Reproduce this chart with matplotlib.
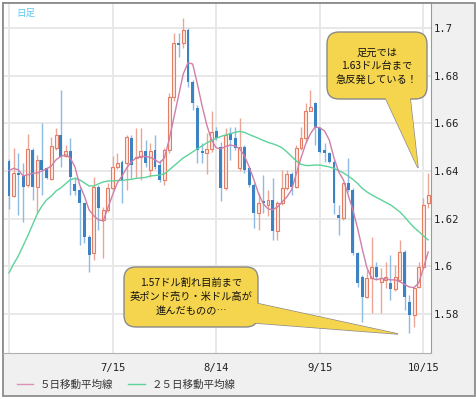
import numpy as np
import pandas as pd
import matplotlib
matplotlib.use("Agg")
import matplotlib.pyplot as plt
from matplotlib.patches import Rectangle, FancyBboxPatch, Polygon

# GBP/USD daily candles, 2009-06-15 .. 2009-10-16
dates = pd.bdate_range("2009-06-15", "2009-10-16")

opens = [1.6442, 1.6296, 1.6390, 1.6380, 1.6341, 1.6490, 1.6334, 1.6446, 1.6411, 1.6366,
         1.6495, 1.6551, 1.6464, 1.6484, 1.6345, 1.6320, 1.6264, 1.6124, 1.6054, 1.6334,
         1.6194, 1.6236, 1.6327, 1.6418, 1.6439, 1.6432, 1.6538, 1.6453, 1.6460, 1.6484,
         1.6404, 1.6488, 1.6423, 1.6362, 1.6488, 1.6710, 1.6936, 1.6937, 1.6992, 1.6775,
         1.6663, 1.6484, 1.6477, 1.6491, 1.6569, 1.6502, 1.6327, 1.6558, 1.6537, 1.6411,
         1.6502, 1.6411, 1.6341, 1.6225, 1.6272, 1.6258, 1.6279, 1.6150, 1.6265, 1.6327,
         1.6387, 1.6334, 1.6495, 1.6537, 1.6653, 1.6684, 1.6579, 1.6486, 1.6477, 1.6439,
         1.6215, 1.6201, 1.6348, 1.6320, 1.6055, 1.5957, 1.5873, 1.5950, 1.5999, 1.5936,
         1.5943, 1.5929, 1.5904, 1.5943, 1.6062, 1.5852, 1.5796, 1.5915, 1.5999, 1.6264]
highs = [1.6450, 1.6495, 1.6477, 1.6432, 1.6555, 1.6495, 1.6467, 1.6600, 1.6415, 1.6544,
         1.6579, 1.6740, 1.6509, 1.6537, 1.6376, 1.6334, 1.6271, 1.6131, 1.6373, 1.6341,
         1.6250, 1.6348, 1.6463, 1.6475, 1.6446, 1.6551, 1.6551, 1.6579, 1.6579, 1.6530,
         1.6516, 1.6551, 1.6446, 1.6495, 1.6726, 1.6978, 1.6978, 1.7040, 1.6999, 1.6780,
         1.6677, 1.6516, 1.6558, 1.6650, 1.6586, 1.6523, 1.6579, 1.6586, 1.6586, 1.6621,
         1.6509, 1.6418, 1.6348, 1.6307, 1.6384, 1.6320, 1.6370, 1.6272, 1.6404, 1.6404,
         1.6395, 1.6509, 1.6586, 1.6684, 1.6740, 1.6690, 1.6586, 1.6516, 1.6481, 1.6446,
         1.6257, 1.6348, 1.6453, 1.6327, 1.6062, 1.5964, 1.5985, 1.6124, 1.6020, 1.5992,
         1.6020, 1.6048, 1.6006, 1.6110, 1.6069, 1.5880, 1.5915, 1.6020, 1.6285, 1.6390]
lows = [1.6240, 1.6290, 1.6215, 1.6187, 1.6334, 1.6280, 1.6222, 1.6300, 1.6365, 1.6362,
        1.6490, 1.6418, 1.6460, 1.6300, 1.6300, 1.6089, 1.6096, 1.5977, 1.6026, 1.6152,
        1.6033, 1.6226, 1.6320, 1.6410, 1.6264, 1.6320, 1.6370, 1.6369, 1.6362, 1.6418,
        1.6376, 1.6410, 1.6355, 1.6340, 1.6474, 1.6695, 1.6880, 1.6915, 1.6754, 1.6656,
        1.6432, 1.6432, 1.6388, 1.6480, 1.6530, 1.6272, 1.6320, 1.6446, 1.6490, 1.6400,
        1.6390, 1.6334, 1.6160, 1.6153, 1.6223, 1.6209, 1.6111, 1.6111, 1.6258, 1.6320,
        1.6300, 1.6327, 1.6488, 1.6523, 1.6650, 1.6509, 1.6474, 1.6439, 1.6432, 1.6220,
        1.6131, 1.6194, 1.6310, 1.6048, 1.5915, 1.5768, 1.5866, 1.5803, 1.5945, 1.5803,
        1.5908, 1.5859, 1.5897, 1.5936, 1.5817, 1.5719, 1.5747, 1.5908, 1.5990, 1.6243]
closes = [1.6296, 1.6390, 1.6382, 1.6334, 1.6492, 1.6334, 1.6446, 1.6404, 1.6372, 1.6506,
          1.6551, 1.6460, 1.6484, 1.6376, 1.6317, 1.6264, 1.6124, 1.6047, 1.6334, 1.6243,
          1.6236, 1.6327, 1.6418, 1.6432, 1.6362, 1.6544, 1.6425, 1.6460, 1.6484, 1.6432,
          1.6484, 1.6418, 1.6362, 1.6488, 1.6710, 1.6936, 1.6929, 1.6992, 1.6775, 1.6684,
          1.6488, 1.6474, 1.6491, 1.6565, 1.6537, 1.6327, 1.6551, 1.6530, 1.6495, 1.6502,
          1.6404, 1.6341, 1.6225, 1.6265, 1.6265, 1.6279, 1.6146, 1.6265, 1.6327, 1.6388,
          1.6334, 1.6495, 1.6537, 1.6653, 1.6670, 1.6579, 1.6481, 1.6477, 1.6439, 1.6264,
          1.6201, 1.6348, 1.6320, 1.6055, 1.5929, 1.5873, 1.5950, 1.5999, 1.5957, 1.5950,
          1.5957, 1.5904, 1.5957, 1.6062, 1.5873, 1.5796, 1.5908, 1.5999, 1.6257, 1.6299]

ma5 = [1.6402, 1.6411, 1.6405, 1.6379, 1.6384, 1.6390, 1.6392, 1.6400, 1.6409, 1.6421,
       1.6447, 1.6461, 1.6468, 1.6455, 1.6417, 1.6342, 1.6295, 1.6237, 1.6212, 1.6195,
       1.6190, 1.6245, 1.6300, 1.6350, 1.6379, 1.6413, 1.6438, 1.6455, 1.6461, 1.6461,
       1.6457, 1.6447, 1.6434, 1.6455, 1.6530, 1.6623, 1.6715, 1.6807, 1.6854, 1.6849,
       1.6765, 1.6673, 1.6593, 1.6530, 1.6497, 1.6493, 1.6503, 1.6509, 1.6505, 1.6493,
       1.6463, 1.6417, 1.6363, 1.6304, 1.6262, 1.6241, 1.6237, 1.6249, 1.6270, 1.6291,
       1.6321, 1.6388, 1.6455, 1.6514, 1.6556, 1.6585, 1.6581, 1.6568, 1.6530, 1.6455,
       1.6396, 1.6363, 1.6300, 1.6237, 1.6161, 1.6073, 1.5993, 1.5951, 1.5943, 1.5949,
       1.5947, 1.5943, 1.5943, 1.5935, 1.5924, 1.5913, 1.5911, 1.5930, 1.5993, 1.6060]
ma25 = [1.5972, 1.6010, 1.6044, 1.6086, 1.6128, 1.6174, 1.6220, 1.6253, 1.6279, 1.6295,
        1.6316, 1.6329, 1.6346, 1.6363, 1.6369, 1.6363, 1.6350, 1.6337, 1.6337, 1.6346,
        1.6354, 1.6358, 1.6358, 1.6360, 1.6360, 1.6363, 1.6365, 1.6369, 1.6371, 1.6373,
        1.6379, 1.6381, 1.6383, 1.6388, 1.6404, 1.6421, 1.6438, 1.6455, 1.6467, 1.6480,
        1.6493, 1.6505, 1.6518, 1.6528, 1.6537, 1.6545, 1.6551, 1.6556, 1.6562, 1.6566,
        1.6562, 1.6553, 1.6545, 1.6537, 1.6528, 1.6520, 1.6514, 1.6507, 1.6497, 1.6480,
        1.6461, 1.6442, 1.6428, 1.6423, 1.6423, 1.6425, 1.6425, 1.6421, 1.6417, 1.6411,
        1.6402, 1.6392, 1.6379, 1.6365, 1.6348, 1.6327, 1.6312, 1.6300, 1.6289, 1.6279,
        1.6268, 1.6258, 1.6243, 1.6228, 1.6207, 1.6184, 1.6163, 1.6146, 1.6127, 1.6111]

tick_dates = ["2009-06-15", "2009-07-15", "2009-08-14", "2009-09-15", "2009-10-15"]
yticks = [1.58, 1.60, 1.62, 1.64, 1.66, 1.68, 1.70]

W, H = 477, 399
fig = plt.figure(figsize=(W / 100, H / 100), dpi=100, facecolor="white")

# background panel + frame (pixel coords)
bg = fig.add_axes([0, 0, 1, 1], zorder=0)
bg.set_xlim(0, W)
bg.set_ylim(H, 0)
bg.axis("off")
bg.add_patch(Rectangle((3, 3), 472, 393, facecolor="#f0f0f0", edgecolor="#8c8c8c", lw=1.3))

ax = fig.add_axes([3 / W, (H - 353) / H, 428 / W, 350 / H], zorder=1)
ax.set_facecolor("white")

x = np.arange(len(dates))
o = np.array(opens); c = np.array(closes)
hi = np.array(highs); lo = np.array(lows)
up = c >= o
dn = ~up

ax.vlines(x[up], lo[up], hi[up], color="#eba595", lw=1, zorder=3)
ax.vlines(x[dn], lo[dn], hi[dn], color="#8dbbe2", lw=1, zorder=3)
ax.bar(x[up], c[up] - o[up], bottom=o[up], width=0.62, facecolor="#fdebe6",
       edgecolor="#e57c64", lw=0.8, zorder=4)
ax.bar(x[dn], o[dn] - c[dn], bottom=c[dn], width=0.62, color="#3d83c3", lw=0, zorder=4)

ax.plot(x, ma25, color="#5dd39a", lw=1, zorder=5)
ax.plot(x, ma5, color="#cf7fa8", lw=1, zorder=5)

ax.set_xlim(-1.27, 89.6)
ax.set_ylim(1.5636, 1.7105)

tpos = [dates.get_loc(pd.Timestamp(d)) for d in tick_dates]
tlab = ["" if i == 0 else f"{dates[p].month}/{dates[p].day}" for i, p in enumerate(tpos)]
ax.set_xticks(tpos)
ax.set_xticklabels(tlab, family="DejaVu Sans Mono", fontsize=7.6, color="#222")
ax.set_yticks(yticks)
ax.set_yticklabels([f"{v:g}" for v in yticks], family="DejaVu Sans Mono", fontsize=7.6, color="#222")
ax.yaxis.tick_right()
ax.tick_params(axis="y", length=0, pad=2)
ax.tick_params(axis="x", length=0, pad=7)
ax.grid(True, color="#e8e8e8", lw=1.4, zorder=0)
ax.set_axisbelow(True)
for s in ["left", "top"]:
    ax.spines[s].set_color("#8c8c8c")
    ax.spines[s].set_linewidth(1.3)
ax.spines["right"].set_color("#9a9a9a")
ax.spines["bottom"].set_color("#b0b0b0")

# overlay: label, callouts, legend
ov = fig.add_axes([0, 0, 1, 1], zorder=2)
ov.set_xlim(0, W)
ov.set_ylim(H, 0)
ov.axis("off")
ov.patch.set_alpha(0)

jp = ["Noto Sans CJK JP", "DejaVu Sans"]
ov.text(16, 13, "日足", family=jp, fontsize=6.8, color="#5cc8f2", va="center")

yellow = "#f6d54e"
edge = "#8a8a8a"

def callout(box, tail):
    x0, y0, w, h = box
    ov.add_patch(Polygon(tail, closed=True, facecolor=yellow, edgecolor=edge, lw=1))
    ov.add_patch(FancyBboxPatch((x0, y0), w, h, boxstyle="round,pad=0,rounding_size=12",
                                facecolor=yellow, edgecolor=edge, lw=1))
    ov.add_patch(Polygon(tail, closed=True, facecolor=yellow, edgecolor="none", lw=0))

callout((327, 32, 100, 67), [(385, 97), (410, 97), (418, 168)])
ov.text(377, 66, "足元では\n1.63ドル台まで\n急反発している！", family=jp, fontsize=7.4,
        ha="center", va="center", linespacing=1.45, color="#111")

callout((124, 267, 134, 60), [(255, 303), (255, 323), (398, 334)])
ov.text(191, 297, "1.57ドル割れ目前まで\n英ポンド売り・米ドル高が\n進んだものの…", family=jp,
        fontsize=7.4, ha="center", va="center", linespacing=1.45, color="#111")

ov.plot([17, 33], [384, 384], color="#d993b6", lw=1)
ov.text(40, 385, "５日移動平均線", family=jp, fontsize=7.6, va="center", color="#333")
ov.plot([128, 145], [384, 384], color="#5dd39a", lw=1)
ov.text(152, 385, "２５日移動平均線", family=jp, fontsize=7.6, va="center", color="#333")

fig.savefig("out.png", dpi=100)
